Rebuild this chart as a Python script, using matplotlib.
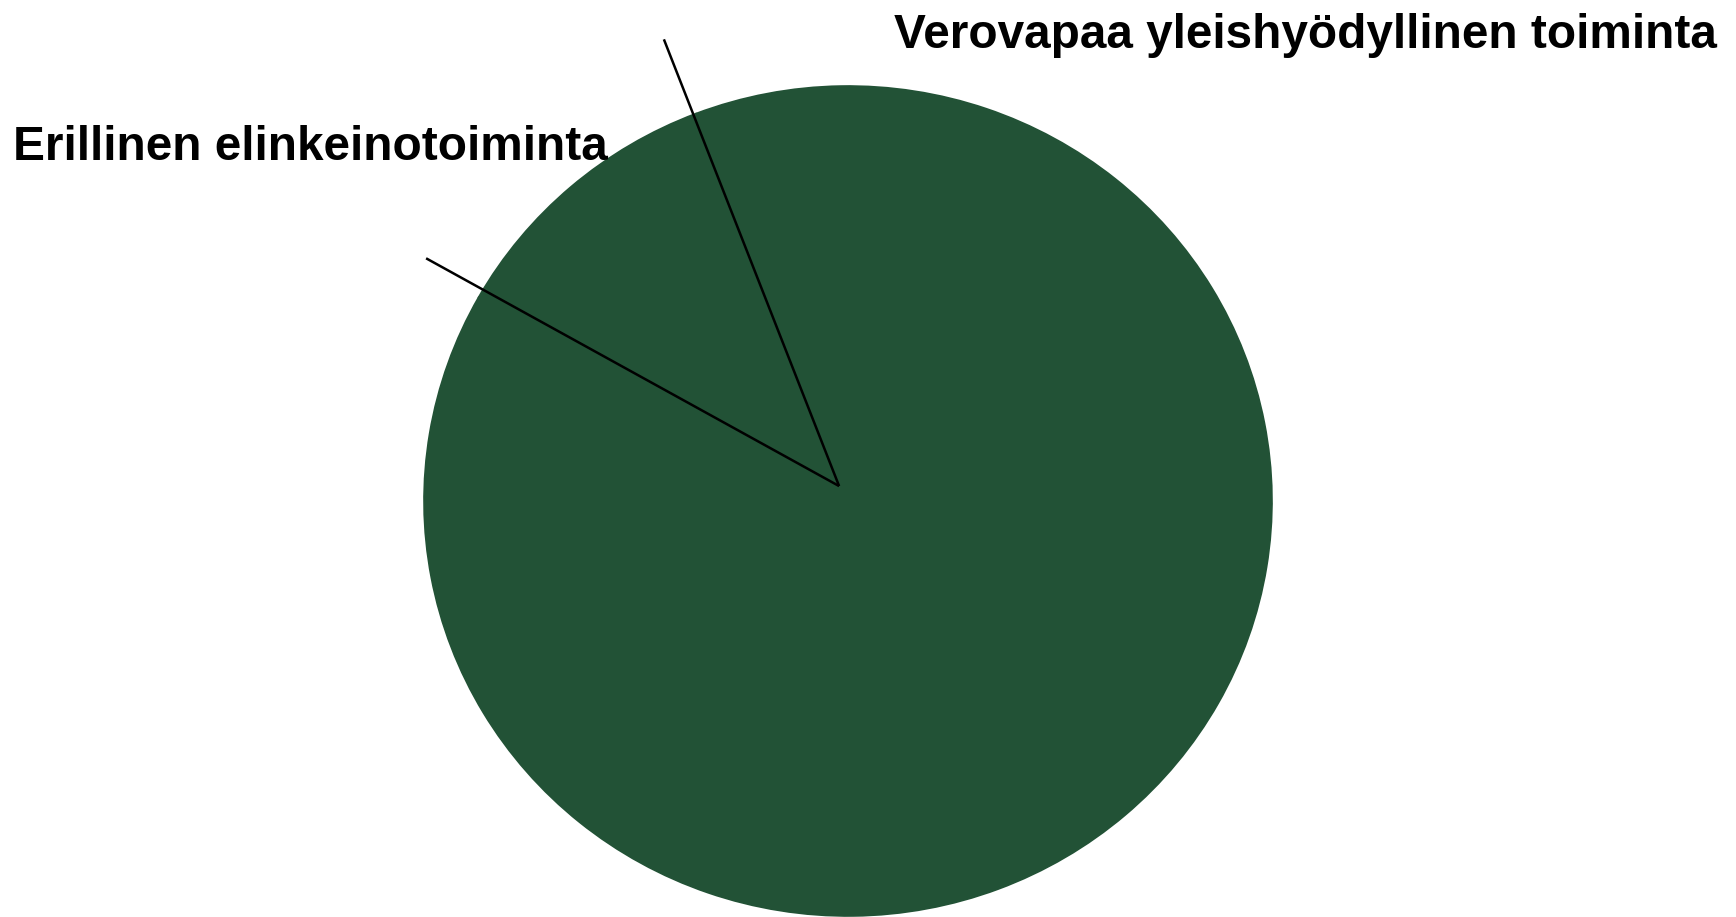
import numpy as np
import matplotlib.pyplot as plt

plt.rcParams['font.family'] = ['Liberation Sans', 'DejaVu Sans']

labels = ["Erillinen elinkeinotoiminta", "Verovapaa yleishyödyllinen toiminta"]
values = [11, 89]
color = "#225236"

fig = plt.figure(figsize=(17.36, 9.17), dpi=100)
ax = fig.add_axes([424 / 1736, 1 / 917, 848 / 1736, 830 / 917])

start = 111
ax.pie(values, colors=[color, color], startangle=start, counterclock=True,
       wedgeprops=dict(linewidth=1.2, edgecolor=color), frame=False)
ax.set_aspect('auto')
ax.set_xlim(-1, 1)
ax.set_ylim(-1, 1)
ax.set_axis_off()

# leader lines along the small slice's edges, from a point just off centre
cx, cy = -0.021, 0.036
angles = [start, start + 360 * values[0] / sum(values)]
lengths = [1.153, 1.118]
for a, L in zip(angles, lengths):
    t = np.radians(a)
    ax.plot([cx, cx + L * np.cos(t)], [cy, cy + L * np.sin(t)],
            color="black", lw=1.8, clip_on=False, solid_capstyle='butt')

fig.text(13 / 1736, 1 - 160 / 917, labels[0], fontsize=34.4, fontweight='bold',
         ha='left', va='baseline')
fig.text(894 / 1736, 1 - 48 / 917, labels[1], fontsize=34.4, fontweight='bold',
         ha='left', va='baseline')

fig.savefig("out.png", dpi=100)
